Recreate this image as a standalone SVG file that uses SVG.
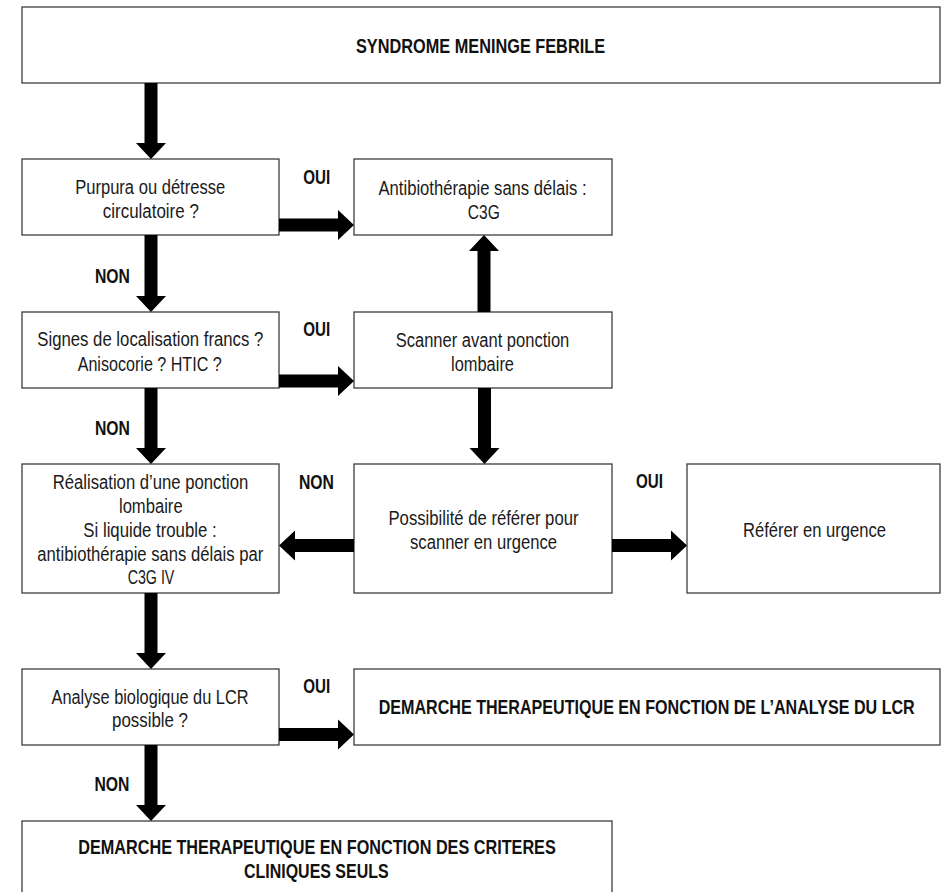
<svg xmlns="http://www.w3.org/2000/svg" width="946" height="892" viewBox="0 0 946 892">
  <style>
    .box { fill: #ffffff; stroke: #3c3c3c; stroke-width: 1.3; }
    .t { font-family: "Liberation Sans", Arial, sans-serif; font-size: 19.5px; fill: #1a1a1a; text-anchor: middle; }
    .b { font-weight: bold; fill: #111111; }
    .arrow { fill: #000000; stroke: none; }
  </style>
  <rect width="946" height="892" fill="#ffffff"/>

  <!-- nodes -->
  <g id="syndrome">
    <rect class="box" x="22" y="7" width="918" height="76"/>
    <text class="t b" x="480.5" y="53" textLength="249" lengthAdjust="spacingAndGlyphs">SYNDROME MENINGE FEBRILE</text>
  </g>

  <g id="purpura">
    <rect class="box" x="22" y="159" width="257" height="76"/>
    <text class="t" x="150.2" y="194" textLength="150" lengthAdjust="spacingAndGlyphs">Purpura ou détresse</text>
    <text class="t" x="150.8" y="218" textLength="96" lengthAdjust="spacingAndGlyphs">circulatoire ?</text>
  </g>

  <g id="antibiotherapie">
    <rect class="box" x="354" y="159" width="258" height="76"/>
    <text class="t" x="482.5" y="195" textLength="208" lengthAdjust="spacingAndGlyphs">Antibiothérapie sans délais :</text>
    <text class="t" x="483.8" y="218.5" textLength="32" lengthAdjust="spacingAndGlyphs">C3G</text>
  </g>

  <g id="signes">
    <rect class="box" x="22" y="312" width="257" height="76"/>
    <text class="t" x="150.3" y="346" textLength="226" lengthAdjust="spacingAndGlyphs">Signes de localisation francs ?</text>
    <text class="t" x="149.7" y="370.5" textLength="144" lengthAdjust="spacingAndGlyphs">Anisocorie ? HTIC ?</text>
  </g>

  <g id="scanner">
    <rect class="box" x="354" y="312" width="258" height="76"/>
    <text class="t" x="482.5" y="347.3" textLength="173.6" lengthAdjust="spacingAndGlyphs">Scanner avant ponction</text>
    <text class="t" x="482.5" y="370.7" textLength="63" lengthAdjust="spacingAndGlyphs">lombaire</text>
  </g>

  <g id="ponction">
    <rect class="box" x="22" y="464" width="257" height="129"/>
    <text class="t" x="150.5" y="489.3" textLength="195.7" lengthAdjust="spacingAndGlyphs">Réalisation d’une ponction</text>
    <text class="t" x="150.8" y="512.5" textLength="63.7" lengthAdjust="spacingAndGlyphs">lombaire</text>
    <text class="t" x="150" y="536.7" textLength="133.3" lengthAdjust="spacingAndGlyphs">Si liquide trouble :</text>
    <text class="t" x="150.3" y="560.7" textLength="226" lengthAdjust="spacingAndGlyphs">antibiothérapie sans délais par</text>
    <text class="t" x="151" y="584.3" textLength="46.7" lengthAdjust="spacingAndGlyphs">C3G IV</text>
  </g>

  <g id="possibilite">
    <rect class="box" x="354" y="464" width="258" height="129"/>
    <text class="t" x="483.5" y="525" textLength="190" lengthAdjust="spacingAndGlyphs">Possibilité de référer pour</text>
    <text class="t" x="483.5" y="548.5" textLength="147" lengthAdjust="spacingAndGlyphs">scanner en urgence</text>
  </g>

  <g id="referer">
    <rect class="box" x="687" y="464" width="253" height="129"/>
    <text class="t" x="814.5" y="537" textLength="143" lengthAdjust="spacingAndGlyphs">Référer en urgence</text>
  </g>

  <g id="analyse">
    <rect class="box" x="22" y="669" width="257" height="76"/>
    <text class="t" x="150" y="703.5" textLength="197" lengthAdjust="spacingAndGlyphs">Analyse biologique du LCR</text>
    <text class="t" x="150" y="727" textLength="76" lengthAdjust="spacingAndGlyphs">possible ?</text>
  </g>

  <g id="demarche-lcr">
    <rect class="box" x="354" y="669" width="586" height="76"/>
    <!-- condensed horizontally so the long title fits inside its box -->
    <text class="t b" transform="translate(646.7,714) scale(0.826,1)" x="0" y="0">DEMARCHE THERAPEUTIQUE EN FONCTION DE L’ANALYSE DU LCR</text>
  </g>

  <g id="demarche-clinique">
    <rect class="box" x="22" y="821" width="590" height="80"/>
    <text class="t b" x="317" y="853.5" textLength="477.5" lengthAdjust="spacingAndGlyphs">DEMARCHE THERAPEUTIQUE EN FONCTION DES CRITERES</text>
    <text class="t b" x="316.3" y="877.5" textLength="144.6" lengthAdjust="spacingAndGlyphs">CLINIQUES SEULS</text>
  </g>

  <!-- connectors: block arrows with their OUI / NON labels -->
  <g id="connectors">
    <path class="arrow" d="M144.5,83 H157.5 V143 H166 L151,159 L136,143 H144.5 Z"/>
    <path class="arrow" d="M144.5,235 H157.5 V296 H166 L151,312 L136,296 H144.5 Z"/>
    <path class="arrow" d="M144.5,388 H157.5 V448 H166 L151,464 L136,448 H144.5 Z"/>
    <path class="arrow" d="M144.5,593 H157.5 V653 H166 L151,669 L136,653 H144.5 Z"/>
    <path class="arrow" d="M144.5,745 H157.5 V805 H166 L151,821 L136,805 H144.5 Z"/>
    <path class="arrow" d="M478,388 H491 V448 H499.5 L484.5,464 L469.5,448 H478 Z"/>
    <path class="arrow" d="M477.5,312 H490.5 V251 H499 L484,235 L469,251 H477.5 Z"/>
    <path class="arrow" d="M279,218.5 V231.5 H338 V240 L354,225 L338,210 V218.5 Z"/>
    <path class="arrow" d="M279,374.5 V387.5 H338 V396 L354,381 L338,366 V374.5 Z"/>
    <path class="arrow" d="M354,539 V552 H295 V560.5 L279,545.5 L295,530.5 V539 Z"/>
    <path class="arrow" d="M612,539 V552 H671 V560.5 L687,545.5 L671,530.5 V539 Z"/>
    <path class="arrow" d="M279,728 V741 H338 V749.5 L354,734.5 L338,719.5 V728 Z"/>

    <text class="t b" x="316.7" y="184.3" textLength="27" lengthAdjust="spacingAndGlyphs">OUI</text>
    <text class="t b" x="316.7" y="336" textLength="27" lengthAdjust="spacingAndGlyphs">OUI</text>
    <text class="t b" x="649.5" y="488" textLength="27" lengthAdjust="spacingAndGlyphs">OUI</text>
    <text class="t b" x="316.7" y="693.3" textLength="27" lengthAdjust="spacingAndGlyphs">OUI</text>
    <text class="t b" x="112.5" y="283" textLength="35" lengthAdjust="spacingAndGlyphs">NON</text>
    <text class="t b" x="112.5" y="435" textLength="35" lengthAdjust="spacingAndGlyphs">NON</text>
    <text class="t b" x="316.5" y="489" textLength="35" lengthAdjust="spacingAndGlyphs">NON</text>
    <text class="t b" x="112" y="790.7" textLength="35" lengthAdjust="spacingAndGlyphs">NON</text>
  </g>
</svg>
